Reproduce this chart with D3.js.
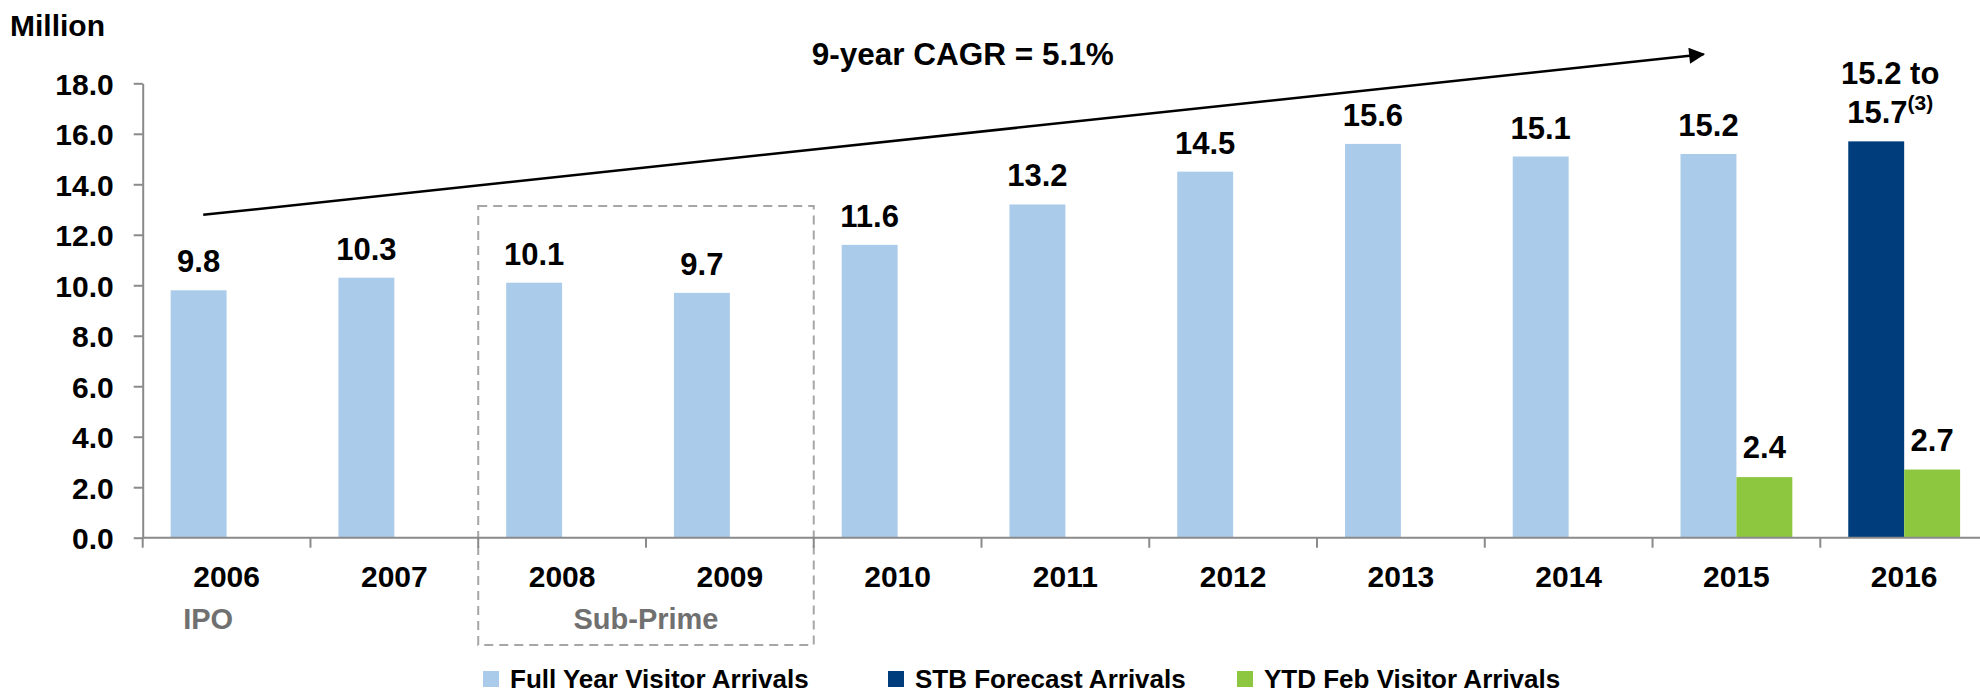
<!DOCTYPE html>
<html>
<head>
<meta charset="utf-8">
<script src="https://cdn.jsdelivr.net/npm/d3@7"></script>
<style>
	body { margin: 0; background: #fff; }
	text { font-family: 'Liberation Sans', Arial, sans-serif; font-weight: bold; }
</style>
</head>
<body>
<div id="chart"></div>
<script>
	'use strict';

	var years = ['2006', '2007', '2008', '2009', '2010', '2011', '2012', '2013', '2014', '2015', '2016'];
	var fullYear = [9.8, 10.3, 10.1, 9.7, 11.6, 13.2, 14.5, 15.6, 15.1, 15.2, null];
	var forecast = [null, null, null, null, null, null, null, null, null, null, 15.7];
	var ytdFeb = [null, null, null, null, null, null, null, null, null, 2.4, 2.7];
	var yTicks = [0, 2, 4, 6, 8, 10, 12, 14, 16, 18];
	var legendNames = ['Full Year Visitor Arrivals', 'STB Forecast Arrivals', 'YTD Feb Visitor Arrivals'];

	var colors = {full: '#abcbea', forecast: '#003d7c', ytd: '#8dc63f'};
	var axisColor = '#8a8a8a';

	var W = 1980, H = 693;
	var margin = {left: 142.7, top: 83.3, bottom: 537.7};
	var step = 167.76;

	var svg = d3.select('#chart')
		.append('svg')
		.attr('width', W)
		.attr('height', H);

	var x = d3.scaleBand()
		.domain(years)
		.range([margin.left, margin.left + step * years.length]);

	var x1 = d3.scaleBand()
		.domain(['main', 'ytd'])
		.range([0, x.bandwidth()])
		.paddingInner(0)
		.paddingOuter(0.5);

	var y = d3.scaleLinear()
		.domain([0, 18])
		.range([margin.bottom, margin.top]);

	// y axis
	var yAxis = svg.append('g')
		.attr('transform', 'translate(' + margin.left + ',0)')
		.call(d3.axisLeft(y)
			.tickValues(yTicks)
			.tickFormat(d3.format('.1f'))
			.tickSize(9)
			.tickSizeOuter(0)
			.tickPadding(20));
	yAxis.selectAll('path, line').attr('stroke', axisColor).attr('stroke-width', 2);
	yAxis.selectAll('text')
		.attr('font-size', 30)
		.attr('fill', '#000')
		.attr('dy', '0.36em')
		.style('font-family', "'Liberation Sans', Arial, sans-serif")
		.style('font-weight', 'bold');

	// dashed sub-prime box
	svg.append('rect')
		.attr('x', x('2008'))
		.attr('y', y(13.14))
		.attr('width', x('2009') + x.bandwidth() - x('2008'))
		.attr('height', 645 - y(13.14))
		.attr('fill', 'none')
		.attr('stroke', '#a6a6a6')
		.attr('stroke-width', 2)
		.attr('stroke-dasharray', '9,6');

	// bars
	var rows = years.map(function (yr, i) {
		return {year: yr, full: fullYear[i], forecast: forecast[i], ytd: ytdFeb[i]};
	});

	var mainRows = rows.filter(function (d) { return d.full !== null || d.forecast !== null; });
	svg.selectAll('.bar-main')
		.data(mainRows)
		.enter()
		.append('rect')
		.attr('class', 'bar-main')
		.attr('x', function (d) { return x(d.year) + x1('main'); })
		.attr('width', x1.bandwidth())
		.attr('y', function (d) { return y(d.full !== null ? d.full : d.forecast); })
		.attr('height', function (d) { return y(0) - y(d.full !== null ? d.full : d.forecast); })
		.attr('fill', function (d) { return d.full !== null ? colors.full : colors.forecast; });

	var ytdRows = rows.filter(function (d) { return d.ytd !== null; });
	svg.selectAll('.bar-ytd')
		.data(ytdRows)
		.enter()
		.append('rect')
		.attr('class', 'bar-ytd')
		.attr('x', function (d) { return x(d.year) + x1('ytd'); })
		.attr('width', x1.bandwidth())
		.attr('y', function (d) { return y(d.ytd); })
		.attr('height', function (d) { return y(0) - y(d.ytd); })
		.attr('fill', colors.ytd);

	// value labels
	svg.selectAll('.lbl-full')
		.data(rows.filter(function (d) { return d.full !== null; }))
		.enter()
		.append('text')
		.attr('x', function (d) { return x(d.year) + x1('main') + x1.bandwidth() / 2; })
		.attr('y', function (d) { return y(d.full) - 18; })
		.attr('text-anchor', 'middle')
		.attr('font-size', 31)
		.text(function (d) { return d.full.toFixed(1); });

	svg.selectAll('.lbl-ytd')
		.data(ytdRows)
		.enter()
		.append('text')
		.attr('x', function (d) { return x(d.year) + x1('ytd') + x1.bandwidth() / 2; })
		.attr('y', function (d) { return y(d.ytd) - 19; })
		.attr('text-anchor', 'middle')
		.attr('font-size', 31)
		.text(function (d) { return d.ytd.toFixed(1); });

	// forecast label, two lines
	var fc = rows[rows.length - 1];
	var fcX = x(fc.year) + x1('main') + x1.bandwidth() / 2 + 14;
	svg.append('text')
		.attr('x', fcX)
		.attr('y', y(fc.forecast) - 57.5)
		.attr('text-anchor', 'middle')
		.attr('font-size', 31)
		.text('15.2 to');
	var fcLine2 = svg.append('text')
		.attr('x', fcX)
		.attr('y', y(fc.forecast) - 18)
		.attr('text-anchor', 'middle')
		.attr('font-size', 31);
	fcLine2.append('tspan').text(fc.forecast.toFixed(1));
	fcLine2.append('tspan').attr('dy', -13).attr('font-size', 21).text('(3)');

	// x axis
	svg.append('line')
		.attr('x1', margin.left)
		.attr('x2', W)
		.attr('y1', y(0))
		.attr('y2', y(0))
		.attr('stroke', axisColor)
		.attr('stroke-width', 2);
	svg.selectAll('.xtick')
		.data(years)
		.enter()
		.append('line')
		.attr('x1', function (d) { return x(d); })
		.attr('x2', function (d) { return x(d); })
		.attr('y1', y(0))
		.attr('y2', y(0) + 10)
		.attr('stroke', axisColor)
		.attr('stroke-width', 2);
	svg.selectAll('.xlbl')
		.data(years)
		.enter()
		.append('text')
		.attr('x', function (d) { return x(d) + x.bandwidth() / 2; })
		.attr('y', y(0) + 49)
		.attr('text-anchor', 'middle')
		.attr('font-size', 30)
		.text(function (d) { return d; });

	// period notes
	svg.append('text')
		.attr('x', x('2007') - 0.61 * x.bandwidth())
		.attr('y', 629)
		.attr('text-anchor', 'middle')
		.attr('font-size', 29)
		.attr('fill', '#707070')
		.text('IPO');
	svg.append('text')
		.attr('x', x('2009'))
		.attr('y', 629)
		.attr('text-anchor', 'middle')
		.attr('font-size', 29)
		.attr('fill', '#707070')
		.text('Sub-Prime');

	// unit label
	svg.append('text')
		.attr('x', 10)
		.attr('y', 36)
		.attr('font-size', 30)
		.text('Million');

	// CAGR arrow
	svg.append('defs').append('marker')
		.attr('id', 'arrow')
		.attr('viewBox', '0 0 10 10')
		.attr('refX', 9)
		.attr('refY', 5)
		.attr('markerUnits', 'userSpaceOnUse')
		.attr('markerWidth', 17)
		.attr('markerHeight', 16)
		.attr('orient', 'auto')
		.append('path')
		.attr('d', 'M0,0L10,5L0,10Z')
		.attr('fill', '#000');
	svg.append('line')
		.attr('x1', x('2006') + 60.5)
		.attr('y1', y(12.79))
		.attr('x2', x('2015') + 51)
		.attr('y2', y(19.15))
		.attr('stroke', '#000')
		.attr('stroke-width', 2.5)
		.attr('marker-end', 'url(#arrow)');
	svg.append('text')
		.attr('x', x('2010') - 2)
		.attr('y', 65)
		.attr('font-size', 31.5)
		.text('9-year CAGR = 5.1%');

	// legend
	var legendX = [483, 888, 1237];
	var legendColors = [colors.full, colors.forecast, colors.ytd];
	var legend = svg.selectAll('.legend')
		.data(legendNames)
		.enter()
		.append('g')
		.attr('transform', function (d, i) { return 'translate(' + legendX[i] + ',671)'; });
	legend.append('rect')
		.attr('width', 16)
		.attr('height', 16)
		.attr('fill', function (d, i) { return legendColors[i]; });
	legend.append('text')
		.attr('x', 27)
		.attr('y', 16.5)
		.attr('font-size', 26)
		.text(function (d) { return d; });
</script>
</body>
</html>
